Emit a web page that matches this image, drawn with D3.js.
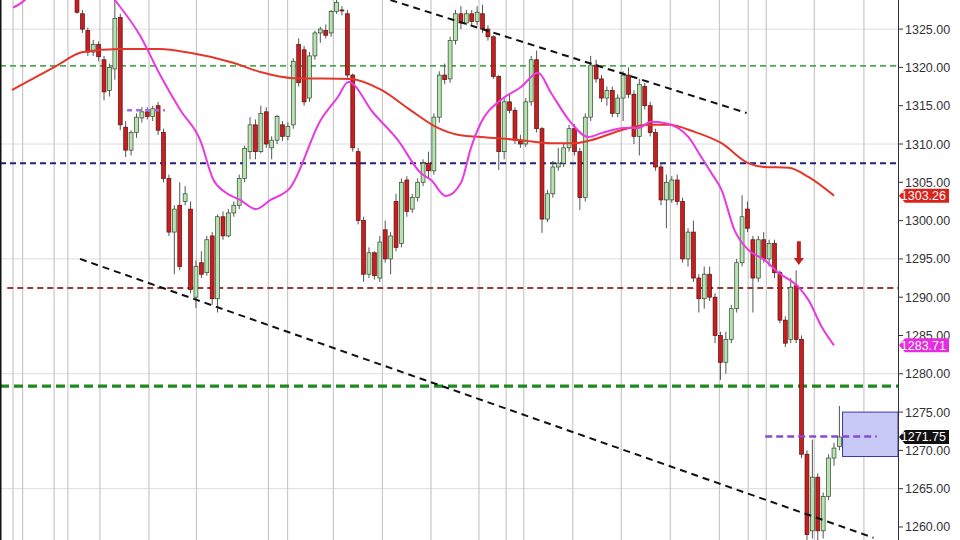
<!DOCTYPE html>
<html><head><meta charset="utf-8">
<script src="https://cdn.jsdelivr.net/npm/d3@7"></script>
<style>body{margin:0;background:#fff}svg{display:block}</style>
</head><body><svg id="c" width="960" height="540"></svg>
<script>
// ---- data (bar index, price) ----
const opens=[1329.5,1327.0,1324.8,1322.0,1323.0,1321.0,1317.0,1319.8,1326.5,1312.2,1309.2,1311.5,1313.4,1314.2,1313.6,1315.0,1311.5,1305.5,1298.5,1302.0,1302.5,1301.5,1290.0,1294.5,1293.2,1298.0,1289.8,1300.5,1298.0,1301.0,1302.0,1305.5,1309.0,1312.5,1309.0,1314.2,1309.5,1310.5,1312.5,1311.0,1312.5,1323.0,1322.3,1316.0,1321.5,1324.5,1324.8,1324.5,1327.3,1327.5,1327.0,1319.0,1309.0,1300.0,1293.0,1295.8,1292.5,1298.8,1295.0,1302.5,1297.0,1305.3,1301.5,1303.0,1305.0,1307.5,1306.5,1313.5,1319.0,1318.5,1323.5,1327.0,1325.8,1327.0,1326.0,1327.0,1325.0,1324.0,1318.8,1309.0,1315.5,1314.4,1310.5,1310.0,1315.5,1321.0,1312.0,1300.2,1303.5,1307.0,1307.5,1309.5,1312.0,1309.0,1303.0,1313.5,1320.3,1318.5,1316.0,1317.0,1314.0,1316.0,1319.0,1316.5,1311.0,1317.5,1315.0,1311.5,1307.0,1302.7,1302.7,1305.3,1302.5,1295.0,1298.5,1292.5,1289.8,1293.0,1290.0,1285.0,1281.5,1284.5,1288.5,1294.5,1301.5,1297.5,1292.5,1297.5,1295.0,1297.0,1293.2,1287.0,1284.5,1291.5,1284.5,1269.5,1259.5,1266.5,1259.5,1264.0,1269.0,1270.5];
const highs=[1330,1327.5,1325.2,1323.6,1323.4,1321.5,1320.5,1328.8,1327.0,1313.0,1311.8,1314.0,1314.8,1314.8,1315.0,1315.5,1312.0,1306.0,1302.0,1305.0,1304.5,1302.5,1294.8,1296.0,1298.0,1298.5,1300.8,1301.2,1301.5,1302.5,1306.0,1309.8,1313.5,1313.2,1315.0,1314.8,1311.0,1313.8,1313.0,1312.8,1321.2,1323.8,1322.8,1322.0,1324.8,1325.3,1325.6,1327.5,1329.0,1328.0,1327.5,1319.2,1309.5,1300.5,1296.5,1296.0,1298.0,1300.0,1298.5,1303.5,1305.5,1305.8,1303.5,1305.5,1308.0,1309.0,1314.0,1319.5,1320.5,1324.0,1327.5,1328.0,1327.5,1327.5,1328.0,1328.2,1325.5,1324.2,1319.0,1316.0,1316.5,1314.8,1311.2,1316.0,1321.5,1322.2,1312.2,1304.0,1307.8,1309.5,1310.0,1312.5,1312.6,1309.5,1314.0,1321.5,1321.0,1319.0,1317.5,1317.5,1316.5,1319.5,1320.0,1317.0,1318.5,1318.0,1315.5,1312.0,1307.5,1306.0,1305.8,1306.0,1303.0,1299.0,1300.0,1293.0,1294.0,1294.0,1290.5,1285.5,1285.5,1289.0,1295.0,1303.3,1302.5,1298.0,1298.0,1298.5,1297.5,1297.5,1293.5,1287.5,1292.5,1293.5,1285.0,1270.0,1271.4,1267.0,1264.5,1269.5,1271.0,1275.8];
const lows=[1327,1324.5,1321.5,1321.5,1320.8,1315.7,1316.2,1318.4,1311.8,1308.3,1308.5,1310.8,1312.8,1313.2,1313.0,1311.2,1305.0,1298.0,1293.0,1293.5,1302.0,1290.5,1288.6,1292.5,1292.8,1289.0,1288.0,1297.5,1297.8,1300.5,1301.5,1305.0,1308.0,1308.0,1308.8,1309.5,1308.0,1310.0,1310.4,1310.5,1312.0,1317.5,1315.0,1315.5,1321.0,1323.2,1323.8,1324.0,1327.0,1326.8,1318.5,1309.0,1299.5,1292.0,1292.5,1292.3,1292.0,1294.5,1293.0,1296.0,1296.5,1300.5,1301.0,1302.5,1304.5,1305.5,1306.0,1312.8,1317.8,1318.0,1323.0,1325.0,1325.5,1325.5,1325.5,1324.5,1323.5,1318.5,1306.6,1308.0,1314.0,1310.0,1309.5,1309.6,1315.0,1311.5,1298.4,1299.8,1303.0,1306.5,1307.0,1309.0,1308.5,1301.4,1302.5,1313.0,1318.0,1315.5,1315.0,1313.5,1313.5,1313.0,1316.0,1310.0,1308.5,1314.5,1311.0,1306.5,1302.0,1299.0,1302.3,1302.0,1294.5,1294.0,1292.0,1288.0,1288.5,1289.5,1284.0,1279.2,1280.0,1284.0,1288.0,1294.0,1298.5,1288.0,1292.0,1294.5,1294.0,1292.5,1286.6,1283.5,1284.0,1284.0,1269.0,1258.0,1258.5,1258.0,1258.5,1263.5,1268.0,1270.0];
const closes=[1327.2,1325.0,1322.0,1323.0,1321.4,1316.8,1320.0,1326.4,1312.5,1309.2,1311.5,1313.5,1314.2,1313.6,1314.6,1311.8,1305.5,1298.5,1301.5,1294.0,1303.5,1291.0,1294.0,1293.0,1297.5,1289.8,1300.5,1298.0,1301.0,1302.0,1305.5,1309.4,1312.5,1309.0,1314.0,1310.0,1310.5,1313.6,1311.0,1312.3,1320.8,1318.0,1315.5,1321.5,1324.5,1325.0,1324.2,1327.3,1328.5,1327.4,1319.0,1309.5,1300.0,1293.0,1295.8,1292.8,1297.2,1295.0,1298.0,1296.5,1305.0,1301.2,1303.0,1305.0,1307.5,1306.5,1313.5,1319.0,1318.4,1323.5,1327.0,1325.8,1327.0,1326.0,1327.2,1325.0,1324.0,1318.8,1309.0,1315.5,1314.4,1310.5,1310.0,1315.5,1321.0,1312.0,1300.2,1303.5,1307.0,1307.5,1309.5,1312.0,1309.0,1303.0,1313.5,1320.3,1318.5,1316.0,1317.0,1314.0,1316.0,1319.0,1316.5,1311.0,1317.8,1315.0,1311.5,1307.0,1302.7,1305.0,1305.3,1302.5,1295.0,1298.5,1292.5,1289.8,1293.0,1290.0,1285.0,1281.5,1284.5,1288.5,1294.5,1300.5,1299.0,1292.5,1297.5,1295.0,1297.0,1293.2,1287.0,1284.0,1291.3,1284.5,1269.5,1259.0,1266.5,1259.5,1264.0,1269.0,1270.3,1271.75];

// slow moving average (red) read as [bar, price]
const maSlow=[[-12.03,1317.05],[-4.04,1320.1],[1.08,1322.0],[7.99,1322.4],[15.38,1322.4],[20.9,1321.9],[28.89,1320.6],[33.92,1319.4],[40.03,1318.6],[50.58,1318.5],[56.2,1317.1],[61.72,1314.4],[66.75,1312.1],[70.4,1311.2],[74.73,1310.9],[82.13,1310.5],[87.65,1310.1],[91.89,1310.1],[95.05,1310.5],[100.66,1311.8],[105.6,1312.5],[109.34,1312.5],[114.17,1311.6],[119.2,1310.1],[124.13,1307.5],[127.09,1307.0],[131.62,1306.9],[135.27,1305.7],[140,1303.26]];
// fast moving average (magenta)
const maFast=[[-11.83,1327.8],[-9.66,1328.8],[-6.9,1331.5],[3.94,1331.5],[7.0,1328.8],[11.63,1324.2],[15.38,1319.0],[19.13,1314.4],[22.78,1310.5],[25.24,1305.3],[27.41,1303.7],[30.17,1302.7],[33.03,1301.5],[35.79,1302.7],[39.44,1304.3],[45.06,1313.1],[48.21,1316.1],[50.18,1318.1],[54.82,1314.05],[59.35,1310.5],[63.59,1306.2],[65.47,1305.3],[68.23,1303.2],[70.99,1304.9],[72.86,1309.5],[74.73,1312.8],[78.38,1315.75],[82.13,1317.45],[85.28,1319.3],[87.65,1316.7],[91.4,1312.75],[94.55,1310.9],[96.92,1311.4],[101.16,1312.1],[103.82,1312.1],[106.19,1312.9],[108.65,1312.75],[113.09,1310.9],[115.45,1308.3],[117.33,1306.2],[119.2,1304.0],[121.57,1298.8],[124.13,1296.2],[127.09,1294.9],[129.75,1293.2],[133.4,1291.35],[135.27,1289.65],[137.74,1286.1],[140,1283.71]];

const yTicks=d3.range(1260,1326,5);
const yGrid=[1265,1280,1295,1310,1325];
const dateBreaks=[-11.83,-10.06,-4.24,-1.68,4.24,13.31,22.09,35.4,38.94,47.42,56.49,65.47,74.34,79.37,82.62,91.69,100.66,109.73,118.81,124.13,127.48,136.36,145.53];
const levels=[
 {price:1320.2,color:"#4dab4d",w:1.6,dash:"6,4"},
 {price:1307.5,color:"#22227a",w:2,dash:"6,4"},
 {price:1291.2,color:"#9a3a3a",w:2,dash:"6,4",from:-12.9},
 {price:1278.4,color:"#1f8a1f",w:3.2,dash:"9,5"}
];
const trendUpper=[[57.97,1328.8],[123.83,1314.05]];
const trendLower=[[0.55,1295.0],[147.3,1258.6]];
const resLine={from:9.27,to:16.27,price:1314.4};
const targetLine={from:127.28,to:147.9,price:1271.8};
const targetBox={from:141.58,top:1275.0,bottom:1269.2};
const arrowBar=133.5, arrowTop=1297.3, arrowTip=1294.2;
const tags=[{v:1303.26,fill:"#d9231d"},{v:1283.71,fill:"#e62be0"},{v:1271.75,fill:"#111"}];

// ---- drawing ----
const W=960,H=540,plotR=898;
const svg=d3.select("#c");
const x=d3.scaleLinear().domain([0,140]).range([77,834]);
const y=d3.scaleLinear().domain([1258.3,1328.8]).range([540,0]);
const xMin=x.invert(0);

svg.append("rect").attr("width",W).attr("height",H).attr("fill","#fff");
svg.append("clipPath").attr("id","cp").append("rect").attr("x",0).attr("y",0).attr("width",plotR).attr("height",H);
const g=svg.append("g").attr("clip-path","url(#cp)");

// grid
g.selectAll(".hg").data(yGrid).join("line").attr("x1",0).attr("x2",plotR)
 .attr("y1",d=>y(d)).attr("y2",d=>y(d)).attr("stroke","#dcdcdc").attr("stroke-width",1);
g.selectAll(".vg").data(dateBreaks).join("line").attr("y1",0).attr("y2",H)
 .attr("x1",d=>x(d)).attr("x2",d=>x(d)).attr("stroke","#c8c8c8").attr("stroke-width",1.2);

// target box
g.append("rect").attr("x",x(targetBox.from)).attr("y",y(targetBox.top))
 .attr("width",plotR-x(targetBox.from)).attr("height",y(targetBox.bottom)-y(targetBox.top))
 .attr("fill","#c9c9f7").attr("stroke","#3a3aa8").attr("stroke-width",1);

// level lines
levels.forEach(l=>{
 g.append("line").attr("x1",x(l.from!==undefined?l.from:xMin)).attr("x2",plotR)
  .attr("y1",y(l.price)).attr("y2",y(l.price)).attr("stroke",l.color)
  .attr("stroke-width",l.w).attr("stroke-dasharray",l.dash);
});

// candles
const data=opens.map((o,i)=>({i,o,h:highs[i],l:lows[i],c:closes[i]}));
const bw=3.9;
g.selectAll(".wick").data(data).join("line")
 .attr("x1",d=>x(d.i)).attr("x2",d=>x(d.i)).attr("y1",d=>y(d.h)).attr("y2",d=>y(d.l))
 .attr("stroke","#555").attr("stroke-width",1);
g.selectAll(".body").data(data).join("rect")
 .attr("x",d=>x(d.i)-bw/2).attr("width",bw)
 .attr("y",d=>y(Math.max(d.o,d.c))).attr("height",d=>Math.max(1,Math.abs(y(d.o)-y(d.c))))
 .attr("fill",d=>d.c>=d.o?"#b9e2b3":"#c81e1e")
 .attr("stroke",d=>d.c>=d.o?"#2d4a2d":"#5a1010").attr("stroke-width",0.7);

// moving averages
const line=d3.line().x(d=>x(d[0])).y(d=>y(d[1])).curve(d3.curveMonotoneX);
g.append("path").attr("d",line(maSlow)).attr("fill","none").attr("stroke","#e2372a").attr("stroke-width",2);
g.append("path").attr("d",line(maFast)).attr("fill","none").attr("stroke","#e93ae0").attr("stroke-width",2);

// trend lines
[trendUpper,trendLower].forEach(t=>{
 g.append("line").attr("x1",x(t[0][0])).attr("y1",y(t[0][1])).attr("x2",x(t[1][0])).attr("y2",y(t[1][1]))
  .attr("stroke","#111").attr("stroke-width",2).attr("stroke-dasharray","7,5");
});

// short purple lines
g.append("line").attr("x1",x(resLine.from)).attr("x2",x(resLine.to)).attr("y1",y(resLine.price)).attr("y2",y(resLine.price))
 .attr("stroke","#a070d8").attr("stroke-width",2.5).attr("stroke-dasharray","5,4");
g.append("line").attr("x1",x(targetLine.from)).attr("x2",x(targetLine.to)).attr("y1",y(targetLine.price)).attr("y2",y(targetLine.price))
 .attr("stroke","#8a4ad0").attr("stroke-width",2.5).attr("stroke-dasharray","7,4");

// arrow
const ax=x(arrowBar), at=y(arrowTop), ap=y(arrowTip);
g.append("rect").attr("x",ax-2).attr("y",at).attr("width",4).attr("height",ap-at-6).attr("fill","#c0201c");
g.append("path").attr("d",`M${ax-5},${ap-7}L${ax+5},${ap-7}L${ax},${ap}Z`).attr("fill","#c0201c");

// left border
svg.append("line").attr("x1",0.75).attr("x2",0.75).attr("y1",0).attr("y2",H).attr("stroke","#111").attr("stroke-width",1.5);

// axis
svg.append("line").attr("x1",plotR+0.5).attr("x2",plotR+0.5).attr("y1",0).attr("y2",H).attr("stroke","#333").attr("stroke-width",1);
const ag=svg.append("g");
yTicks.forEach(t=>{
 ag.append("line").attr("x1",plotR).attr("x2",plotR+5).attr("y1",y(t)).attr("y2",y(t)).attr("stroke","#333");
 ag.append("text").attr("x",905).attr("y",y(t)+4.5).text(d3.format(".2f")(t))
  .attr("font-family","Liberation Sans, Arial, sans-serif").attr("font-size",12.5).attr("fill","#333");
});

// price tags
tags.forEach(t=>{
 const ty=y(t.v);
 svg.append("path").attr("d",`M${plotR+1},${ty}L${plotR+7},${ty-7}L949,${ty-7}L949,${ty+7}L${plotR+7},${ty+7}Z`).attr("fill",t.fill);
 svg.append("text").attr("x",946).attr("y",ty+4.5).attr("text-anchor","end").text(d3.format(".2f")(t.v))
  .attr("font-family","Liberation Sans, Arial, sans-serif").attr("font-size",12.5).attr("fill","#fff");
});
</script></body></html>
